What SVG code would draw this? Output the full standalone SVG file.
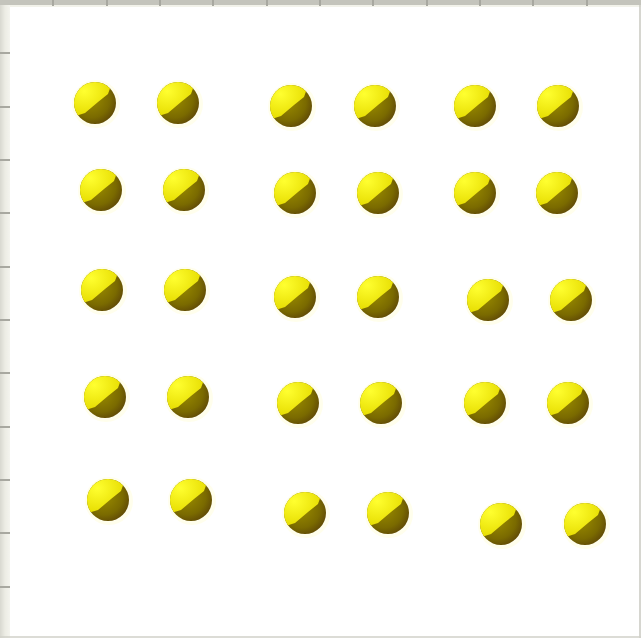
<svg xmlns="http://www.w3.org/2000/svg" width="641" height="638" viewBox="0 0 641 638">
<defs>
<linearGradient id="lb" x1="0" y1="0" x2="1" y2="0">
<stop offset="0" stop-color="#d8d8d0"/><stop offset="0.5" stop-color="#ececE4"/><stop offset="1" stop-color="#f4f4ee"/>
</linearGradient>
<radialGradient id="dk" cx="0.4" cy="0.4" r="0.7">
<stop offset="0" stop-color="#9a8c00"/><stop offset="0.65" stop-color="#7a6a00"/><stop offset="1" stop-color="#5a4208"/>
</radialGradient>
<radialGradient id="yl" cx="0.3" cy="0.3" r="0.7">
<stop offset="0" stop-color="#ffff30"/><stop offset="1" stop-color="#e6dc00"/>
</radialGradient>
<clipPath id="cc"><circle cx="0" cy="0" r="21"/></clipPath>
<g id="ball">
<circle cx="1" cy="1" r="24" fill="#fffde0" opacity="0.6"/>
<circle cx="0" cy="0" r="21" fill="url(#dk)"/>
<path d="M-23 14 L-10 10 L3 -1 L13 -9 L18 -23 L-23 -23 Z" fill="url(#yl)" clip-path="url(#cc)"/>
</g>
</defs>
<style>.t{stroke:#a8a8a0;stroke-width:2}</style>
<rect width="641" height="638" fill="#ffffff"/>
<g id="frame">
<rect x="0" y="0" width="10" height="638" fill="url(#lb)"/>
<rect x="0" y="0" width="641" height="5" fill="#c4c4bc"/>
<rect x="10" y="5" width="631" height="2" fill="#f2f2ea"/>
<line x1="640" y1="5" x2="640" y2="638" stroke="#c8c8c0" stroke-width="1.5"/>
<line x1="0" y1="637" x2="641" y2="637" stroke="#d0d0c8" stroke-width="1.5"/>
<g class="t">
<line x1="0" y1="53" x2="10" y2="53"/><line x1="0" y1="107" x2="10" y2="107"/><line x1="0" y1="160" x2="10" y2="160"/><line x1="0" y1="213" x2="10" y2="213"/><line x1="0" y1="267" x2="10" y2="267"/><line x1="0" y1="320" x2="10" y2="320"/><line x1="0" y1="373" x2="10" y2="373"/><line x1="0" y1="427" x2="10" y2="427"/><line x1="0" y1="480" x2="10" y2="480"/><line x1="0" y1="533" x2="10" y2="533"/><line x1="0" y1="587" x2="10" y2="587"/>
<line x1="53" y1="0" x2="53" y2="6"/><line x1="107" y1="0" x2="107" y2="6"/><line x1="160" y1="0" x2="160" y2="6"/><line x1="213" y1="0" x2="213" y2="6"/><line x1="267" y1="0" x2="267" y2="6"/><line x1="320" y1="0" x2="320" y2="6"/><line x1="373" y1="0" x2="373" y2="6"/><line x1="427" y1="0" x2="427" y2="6"/><line x1="480" y1="0" x2="480" y2="6"/><line x1="533" y1="0" x2="533" y2="6"/><line x1="587" y1="0" x2="587" y2="6"/>
</g>
</g>
<g id="balls">
<use href="#ball" x="95" y="103"/><use href="#ball" x="178" y="103"/><use href="#ball" x="291" y="106"/><use href="#ball" x="375" y="106"/><use href="#ball" x="475" y="106"/><use href="#ball" x="558" y="106"/>
<use href="#ball" x="101" y="190"/><use href="#ball" x="184" y="190"/><use href="#ball" x="295" y="193"/><use href="#ball" x="378" y="193"/><use href="#ball" x="475" y="193"/><use href="#ball" x="557" y="193"/>
<use href="#ball" x="102" y="290"/><use href="#ball" x="185" y="290"/><use href="#ball" x="295" y="297"/><use href="#ball" x="378" y="297"/><use href="#ball" x="488" y="300"/><use href="#ball" x="571" y="300"/>
<use href="#ball" x="105" y="397"/><use href="#ball" x="188" y="397"/><use href="#ball" x="298" y="403"/><use href="#ball" x="381" y="403"/><use href="#ball" x="485" y="403"/><use href="#ball" x="568" y="403"/>
<use href="#ball" x="108" y="500"/><use href="#ball" x="191" y="500"/><use href="#ball" x="305" y="513"/><use href="#ball" x="388" y="513"/><use href="#ball" x="501" y="524"/><use href="#ball" x="585" y="524"/>
</g>
</svg>
